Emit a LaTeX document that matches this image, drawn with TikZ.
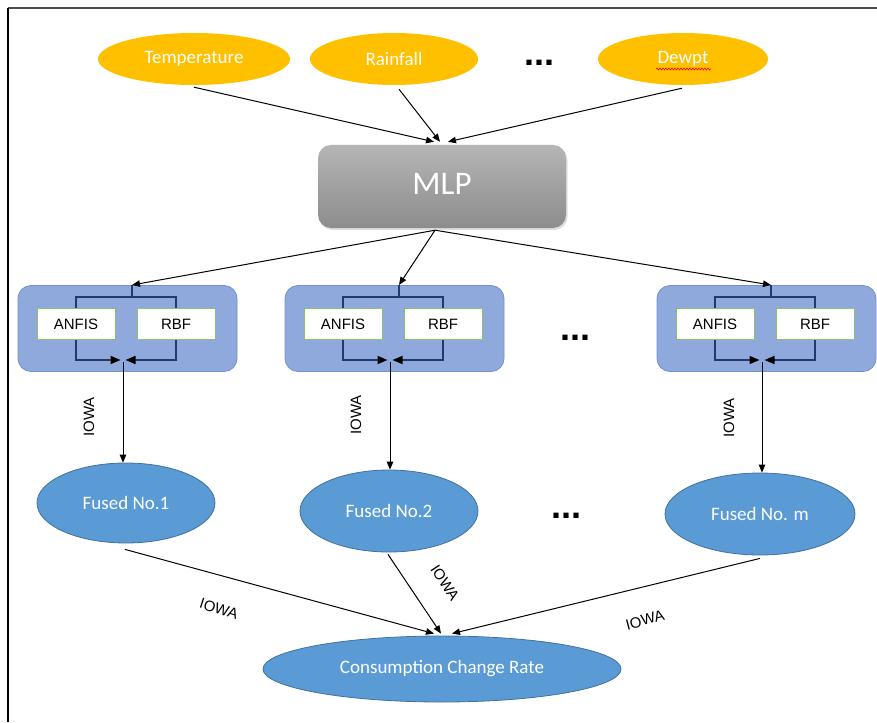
\documentclass[tikz,border=0pt]{standalone}
\usepackage{fontspec}
\setmainfont{Carlito}
\newfontfamily\arialf{Liberation Sans}
\usetikzlibrary{shapes.geometric,arrows.meta,decorations.pathmorphing,shadows}

\definecolor{gold}{HTML}{FFC000}
\definecolor{bluefill}{HTML}{8FA9DC}
\definecolor{blueline}{HTML}{7690CC}
\definecolor{navy}{HTML}{24386B}
\definecolor{fusedfill}{HTML}{5B9BD5}
\definecolor{fusedline}{HTML}{41719C}
\definecolor{boxgreen}{HTML}{8CC168}

\newcommand{\ensemble}[2]{%
  \node[bluebox] (box#2) at ({#1+109.5},328.5) {};
  \node[inbox] (anfis#2) at ({#1+58},324) {ANFIS};
  \node[inbox] (rbf#2) at ({#1+158},324) {RBF};
  \coordinate (top#2) at ({#1+114},285);
  \coordinate (bot#2) at ({#1+105},360);
  \draw[brk] (top#2) -- (top#2 |- 0,297);
  \draw[brk] (anfis#2.north) -- (anfis#2.north |- 0,297) -- (rbf#2.north |- 0,297) -- (rbf#2.north);
  \draw[brk,-{Triangle[length=10pt,width=8pt,color=black]}] (anfis#2.south) |- ([xshift=-2.5pt]bot#2);
  \draw[brk,-{Triangle[length=10pt,width=8pt,color=black]}] (rbf#2.south) |- ([xshift=2.5pt]bot#2);
}

\begin{document}
\begin{tikzpicture}[x=1pt,y=-1pt,
  inp/.style={ellipse, fill=gold, minimum height=52pt, inner sep=0pt, text=white, font=\fontsize{19}{22}\selectfont},
  mlpbox/.style={rectangle, rounded corners=13pt, minimum width=248pt, minimum height=83pt, top color=gray!58, bottom color=gray!90, draw=none, text=white, font=\fontsize{33}{36}\selectfont, drop shadow={opacity=0.25, shadow xshift=1.5pt, shadow yshift=-2pt}},
  bluebox/.style={rectangle, rounded corners=13pt, minimum width=219pt, minimum height=86pt, fill=bluefill, draw=blueline, line width=0.8pt},
  inbox/.style={rectangle, fill=white, draw=boxgreen, line width=0.8pt, minimum width=78pt, minimum height=31pt, inner sep=0pt, font=\arialf\fontsize{15}{18}\selectfont},
  brk/.style={draw=navy, line width=1.6pt},
  arr/.style={-{Triangle[length=8pt,width=6.5pt]}, line width=1pt, black},
  fused/.style={ellipse, fill=fusedfill, draw=fusedline, line width=0.8pt, inner sep=0pt, text=white, font=\fontsize{19}{22}\selectfont},
  iowa/.style={font=\arialf\fontsize{15}{18}\selectfont, inner sep=0pt},
  dots/.style={font=\arialf\bfseries\fontsize{36}{38}\selectfont, inner sep=0pt, anchor=base}
]
\useasboundingbox (0,0) rectangle (877,722);
\fill[white] (0,0) rectangle (877,722);
% frame
\draw[line width=2pt, black!70] (8,8) -- (877,8);
\draw[line width=1.4pt, black] (8,8) -- (8,722);

% inputs
\node[inp, minimum width=192pt] (temp) at (194,59) {Temperature};
\node[inp, minimum width=168pt] (rain) at (394,59) {Rainfall};
\node[dots] (dots1) at (539,66) {...};
\node[inp, minimum width=170pt] (dew) at (683,59) {Dewpt};
\draw[red, line width=0.6pt, decorate, decoration={snake, amplitude=0.9pt, segment length=3pt}]
  ([xshift=-27pt,yshift=-10pt]dew.center) -- ([xshift=28pt,yshift=-10pt]dew.center);

% MLP
\node[mlpbox] (mlp) at (442,186.5) {\raisebox{5pt}{MLP}};

\draw[arr] ([yshift=-2pt]temp.south) -- ([xshift=-8pt,yshift=3pt]mlp.north);
\draw[arr] ([xshift=5pt,yshift=-4pt]rain.south) -- ([xshift=-2pt,yshift=3pt]mlp.north);
\draw[arr] ([xshift=-1pt,yshift=-3pt]dew.south) -- ([xshift=6pt,yshift=3pt]mlp.north);

% ensembles
\ensemble{18}{1}
\ensemble{285}{2}
\ensemble{657}{3}
\node[dots] (dots2) at (575,340) {...};

\draw[arr] ([xshift=-7pt,yshift=-2pt]mlp.south) -- (top1);
\draw[arr] ([xshift=-7pt,yshift=-2pt]mlp.south) -- (top2);
\draw[arr] ([xshift=-7pt,yshift=-2pt]mlp.south) -- (top3);

% fused
\node[fused, minimum width=178pt, minimum height=80pt] (fused1) at (126,503) {Fused No.1};
\node[fused, minimum width=178pt, minimum height=82pt] (fused2) at (389,511) {Fused No.2};
\node[dots] (dots3) at (566,518) {...};
\node[fused, minimum width=190pt, minimum height=82pt] (fusedm) at (760,514) {Fused No. m};

\draw[arr] ([yshift=-2pt]bot1) -- (bot1 |- fused1.north);
\draw[arr] ([yshift=-2pt]bot2) -- (bot2 |- fused2.north);
\draw[arr] ([yshift=-2pt]bot3) -- (bot3 |- fusedm.north);

\node[iowa, rotate=90] (iw1) at (89,417) {IOWA};
\node[iowa, rotate=90] (iw2) at (356,415) {IOWA};
\node[iowa, rotate=90] (iw3) at (729,418) {IOWA};

% consumption
\node[fused, minimum width=358pt, minimum height=66pt] (ccr) at (442,669) {\raisebox{5pt}{Consumption Change Rate}};

\draw[arr] ([xshift=-1pt,yshift=-6pt]fused1.south) -- ([xshift=-8pt,yshift=2pt]ccr.north);
\draw[arr] ([xshift=-1pt,yshift=-2pt]fused2.south) -- ([xshift=-1pt,yshift=2pt]ccr.north);
\draw[arr] ([yshift=-3pt]fusedm.south) -- ([xshift=10pt,yshift=2pt]ccr.north);

\node[iowa, rotate=-18] (iw4) at (219,609) {IOWA};
\node[iowa, rotate=-57] (iw5) at (445,583) {IOWA};
\node[iowa, rotate=15] (iw6) at (645,620) {IOWA};
\end{tikzpicture}
\end{document}
